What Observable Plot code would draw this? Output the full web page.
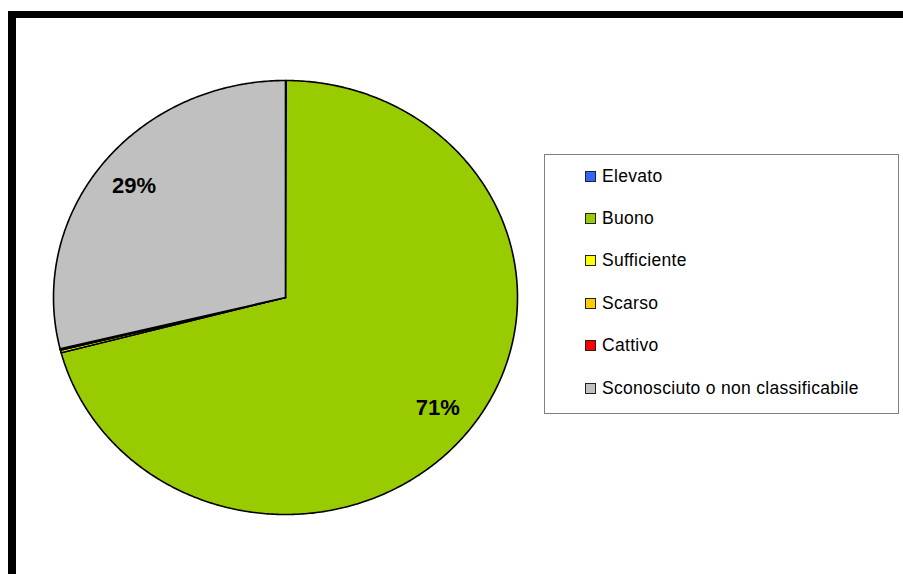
<!DOCTYPE html>
<html>
<head>
<meta charset="utf-8">
<script src="https://cdn.jsdelivr.net/npm/d3@7"></script>
<script src="https://cdn.jsdelivr.net/npm/@observablehq/plot@0.6"></script>
<style>
  html, body { margin: 0; padding: 0; background: #fff; }
  #wrap { position: relative; width: 903px; height: 574px; overflow: hidden; font-family: "Liberation Sans", Arial, sans-serif; }
  #frame { position: absolute; left: 8px; top: 11px; right: 0; bottom: 0; border-top: 7px solid #000; border-left: 8px solid #000; box-sizing: border-box; }
  #chart { position: absolute; left: 0; top: 0; }
  #legend { position: absolute; left: 544px; top: 154px; width: 355px; height: 260px; box-sizing: border-box; border: 1px solid #808080; background: #fff; }
  .item { position: absolute; left: 40px; height: 20px; display: flex; align-items: center; font-size: 17.5px; letter-spacing: 0.3px; color: #000; white-space: nowrap; }
  .sw { width: 9px; height: 9px; border: 1px solid #222; margin-right: 6px; flex: none; }
</style>
</head>
<body>
<div id="wrap">
  <div id="frame"></div>
  <div id="chart"></div>
  <div id="legend"></div>
</div>
<script>
const categories = ["Elevato", "Buono", "Sufficiente", "Scarso", "Cattivo", "Sconosciuto o non classificabile"];
const values = [0.05, 70.85, 0.2, 0.05, 0.05, 28.8];
const colors = ["#3366ff", "#99cc00", "#ffff00", "#ffcc00", "#ff0000", "#c0c0c0"];
const pctLabels = ["", "71%", "", "", "", "29%"];

const data = categories.map((c, i) => ({category: c, value: values[i], color: colors[i], label: pctLabels[i]}));
const arcs = d3.pie().sort(null).value(d => d.value)(data);

// polygon for each slice in unit-circle coordinates (angle 0 = 12 o'clock, clockwise)
function slicePoints(a) {
  const pts = [{x: 0, y: 0}];
  const n = Math.max(2, Math.ceil((a.endAngle - a.startAngle) / 0.01));
  for (let k = 0; k <= n; k++) {
    const t = a.startAngle + (a.endAngle - a.startAngle) * k / n;
    pts.push({x: Math.sin(t), y: Math.cos(t)});
  }
  return pts;
}

const labelData = arcs.filter(a => a.data.label).map(a => {
  const m = (a.startAngle + a.endAngle) / 2;
  return {x: 0.83 * Math.sin(m), y: 0.83 * Math.cos(m), text: a.data.label};
});

const marks = arcs.map(a => Plot.line(slicePoints(a), {
  x: "x", y: "y", curve: "linear-closed",
  fill: a.data.color, stroke: "#000", strokeWidth: 1.6, strokeLinejoin: "round"
}));
marks.push(Plot.text(labelData, {
  x: "x", y: "y", text: "text", fontSize: 22, fontWeight: "bold", fill: "#000",
  fontFamily: "Liberation Sans, Arial, sans-serif"
}));

const chart = Plot.plot({
  width: 903, height: 574,
  marginTop: 0, marginRight: 0, marginBottom: 0, marginLeft: 0,
  x: {domain: [-1, 1], range: [53, 517], axis: null},
  y: {domain: [-1, 1], range: [514, 80], axis: null},
  style: {background: "transparent", fontFamily: "Liberation Sans, Arial, sans-serif"},
  marks
});
document.getElementById("chart").appendChild(chart);

const legend = document.getElementById("legend");
categories.forEach((c, i) => {
  const it = document.createElement("div");
  it.className = "item";
  it.style.top = (11 + i * 42.4) + "px";
  const sw = document.createElement("span");
  sw.className = "sw";
  sw.style.background = colors[i];
  const tx = document.createElement("span");
  tx.textContent = c;
  it.appendChild(sw);
  it.appendChild(tx);
  legend.appendChild(it);
});
</script>
</body>
</html>
